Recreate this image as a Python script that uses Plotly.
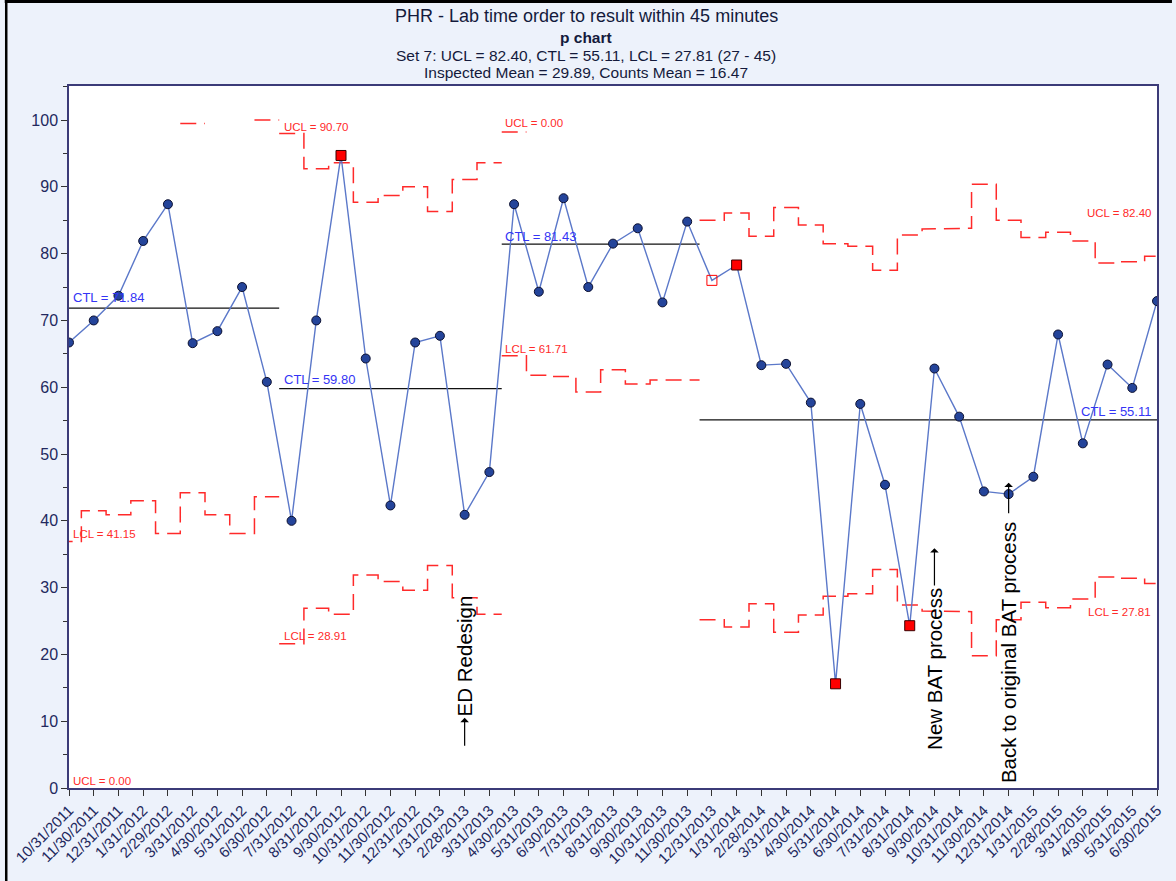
import plotly.graph_objects as go

# ---------------- data ----------------
dates = ["10/31/2011", "11/30/2011", "12/31/2011", "1/31/2012", "2/29/2012", "3/31/2012",
         "4/30/2012", "5/31/2012", "6/30/2012", "7/31/2012", "8/31/2012", "9/30/2012",
         "10/31/2012", "11/30/2012", "12/31/2012", "1/31/2013", "2/28/2013", "3/31/2013",
         "4/30/2013", "5/31/2013", "6/30/2013", "7/31/2013", "8/31/2013", "9/30/2013",
         "10/31/2013", "11/30/2013", "12/31/2013", "1/31/2014", "2/28/2014", "3/31/2014",
         "4/30/2014", "5/31/2014", "6/30/2014", "7/31/2014", "8/31/2014", "9/30/2014",
         "10/31/2014", "11/30/2014", "12/31/2014", "1/31/2015", "2/28/2015", "3/31/2015",
         "4/30/2015", "5/31/2015", "6/30/2015"]

pct = [66.7, 70.0, 73.7, 81.9, 87.4, 66.6, 68.4, 75.0, 60.8,
       40.0, 70.0, 94.7, 64.3, 42.3, 66.7, 67.7, 40.9, 47.3,
       87.4, 74.3, 88.3, 75.0, 81.5, 83.8, 72.7, 84.8,
       76.0, 78.3, 63.3, 63.5, 57.7, 15.6, 57.5, 45.4, 24.3, 62.8,
       55.6, 44.4, 44.0, 46.6, 67.9, 51.6, 63.4, 59.9, 72.9]

# per-point upper / lower control limits (None = above 100 %, not drawn)
ucl = [None, None, None, None, None, 99.5, None, None, 100.0,
       98.0, 92.7, 93.6, 87.7, 88.7, 90.0, 86.3, 91.1, 93.6,
       98.2, None, None, None, None, None, None, None,
       85.0, 86.1, 82.6, 86.9, 84.3, 81.5, 81.1, 77.5, 82.8, 83.7,
       83.8, 90.4, 85.0, 82.4, 83.2, 81.9, 78.6, 78.8, 79.6]
lcl = [36.9, 41.5, 40.9, 43.0, 38.1, 44.2, 40.9, 38.1, 43.6,
       21.6, 26.9, 26.0, 31.9, 30.9, 29.6, 33.3, 28.5, 26.0,
       64.7, 61.8, 61.6, 59.3, 62.6, 60.5, 61.1, 61.1,
       25.2, 24.1, 27.6, 23.3, 25.9, 28.7, 29.1, 32.7, 27.4, 26.5,
       26.4, 19.8, 25.2, 27.8, 27.0, 28.3, 31.6, 31.4, 30.6]

phase_start = [0, 9, 18, 26]
phase_end = [8, 17, 25, 44]
ctl = [71.84, 59.80, 81.43, 55.11]

signal_idx = [11, 27, 31, 34]     # filled red squares
open_idx = [26]                   # hollow red square

# ---------------- styles ----------------
NAVY = "#23295e"
FONT = "Liberation Sans, Arial, sans-serif"
LIMIT_RED = "#ff2a2a"

fig = go.Figure()

# control limit step lines
def step_xy(vals, s, e):
    xs, ys = [], []
    for i in range(s, e + 1):
        v = vals[i]
        if v is None:
            xs.append(None); ys.append(None)
        else:
            xs += [i - 0.5, i + 0.5]
            ys += [v, v]
    return xs, ys

for s, e, c in zip(phase_start, phase_end, ctl):
    for vals in (ucl, lcl):
        xs, ys = step_xy(vals, s, e)
        fig.add_trace(go.Scatter(x=xs, y=ys, mode="lines", connectgaps=False,
                                 line=dict(color=LIMIT_RED, width=1.5, dash="16px,8px"),
                                 hoverinfo="skip", showlegend=False))
    fig.add_trace(go.Scatter(x=[s - 0.5, e + 0.5], y=[c, c], mode="lines",
                             line=dict(color="#111111", width=1.3),
                             hoverinfo="skip", showlegend=False))

# data line + markers
idx = list(range(len(pct)))
colors, symbols, lcolors, sizes = [], [], [], []
for i in idx:
    if i in signal_idx:
        colors.append("#ff0000"); symbols.append("square"); lcolors.append("#3a0000"); sizes.append(10)
    elif i in open_idx:
        colors.append("#ff0000"); symbols.append("square-open"); lcolors.append("#ff0000"); sizes.append(10)
    else:
        colors.append("#24449a"); symbols.append("circle"); lcolors.append("#0c1030"); sizes.append(9)

fig.add_trace(go.Scatter(x=idx, y=pct, mode="lines+markers",
                         line=dict(color="#5b78c9", width=1.4),
                         marker=dict(color=colors, symbol=symbols, size=sizes, opacity=1,
                                     line=dict(color=lcolors, width=1)),
                         showlegend=False))

# ---------------- annotations ----------------
ann = []
def lab(text, x, y, color, size, anchor="left"):
    ann.append(dict(text=text, x=x, y=y, xref="x", yref="y", showarrow=False,
                    xanchor=anchor, yanchor="middle",
                    font=dict(family=FONT, size=size, color=color)))

BLUE = "#3434f5"
lab("CTL = 71.84", 0.08, 73.4, BLUE, 13)
lab("CTL = 59.80", 8.6, 61.1, BLUE, 13)
lab("CTL = 81.43", 17.57, 82.6, BLUE, 13)
lab("CTL = 55.11", 43.82, 56.3, BLUE, 13, "right")
lab("UCL = 90.70", 8.6, 99.0, LIMIT_RED, 11.5)
lab("UCL = 0.00", 17.57, 99.5, LIMIT_RED, 11.5)
lab("UCL = 82.40", 43.82, 86.1, LIMIT_RED, 11.5, "right")
lab("LCL = 41.15", 0.08, 38.1, LIMIT_RED, 11.5)
lab("LCL = 28.91", 8.6, 22.8, LIMIT_RED, 11.5)
lab("LCL = 61.71", 17.57, 65.8, LIMIT_RED, 11.5)
lab("LCL = 27.81", 43.82, 26.4, LIMIT_RED, 11.5, "right")
lab("UCL = 0.00", 0.08, 1.1, LIMIT_RED, 11.5)

# vertical event labels with arrows
events = [("ED Redesign", 16, 19.8, 6.1, 10.5),
          ("New BAT process", 35, 17.9, 30.1, 35.9),
          ("Back to original BAT process", 38, 20.3, 40.9, 45.7)]
for text, xi, yc, y0, y1 in events:
    ann.append(dict(text=text, x=xi, y=yc, xref="x", yref="y", showarrow=False,
                    textangle=-90, xanchor="center", yanchor="middle",
                    font=dict(family=FONT, size=20.5, color="#000000")))
    ann.append(dict(text="", x=xi, y=y1, ax=xi, ay=y0, xref="x", yref="y",
                    axref="x", ayref="y", showarrow=True, arrowhead=1,
                    arrowsize=1.2, arrowwidth=1.2, arrowcolor="#000000"))

# title lines (pixel -> paper coordinates of the plot area)
PL, PR, PT, PB = 69, 1161, 86, 788
def py(p):
    return (PB - p) / (PB - PT)
def px(p):
    return (p - PL) / (PR - PL)

titles = [("PHR - Lab time order to result within 45 minutes", 16, 18),
          ("<b>p chart</b>", 37, 15.5),
          ("Set 7: UCL = 82.40, CTL = 55.11, LCL = 27.81 (27 - 45)", 55, 15.5),
          ("Inspected Mean = 29.89, Counts Mean = 16.47", 73, 15.5)]
for t, yy, sz in titles:
    ann.append(dict(text=t, x=px(588), y=py(yy), xref="paper", yref="paper",
                    showarrow=False, xanchor="center", yanchor="middle",
                    font=dict(family=FONT, size=sz, color="#141a3c")))

shapes = [
    dict(type="line", xref="paper", yref="paper", x0=px(6), x1=px(6),
         y0=py(0), y1=py(881), line=dict(color="#000000", width=2.5)),
    dict(type="line", xref="paper", yref="paper", x0=px(4.5), x1=px(1176),
         y0=py(1.5), y1=py(1.5), line=dict(color="#000000", width=3)),
]

fig.update_layout(
    width=1176, height=881,
    margin=dict(l=PL, r=1176 - PR, t=PT, b=881 - PB, pad=0),
    paper_bgcolor="#edf2fb", plot_bgcolor="#ffffff",
    annotations=ann, shapes=shapes,
    font=dict(family=FONT, color=NAVY),
)
fig.update_xaxes(range=[0, 44], tickmode="array", tickvals=idx, ticktext=dates,
                 tickangle=-45, ticks="outside", ticklen=6, tickcolor="#333333",
                 showline=True, mirror=True, linecolor="#3b3b78", linewidth=1.5,
                 showgrid=False, zeroline=False,
                 tickfont=dict(family=FONT, size=15, color=NAVY))
fig.update_yaxes(range=[0, 105.1], tick0=0, dtick=10, ticks="outside", ticklen=6,
                 tickcolor="#333333",
                 minor=dict(dtick=5, ticks="outside", ticklen=4, tickcolor="#333333", showgrid=False),
                 showline=True, mirror=True, linecolor="#3b3b78", linewidth=1.5,
                 showgrid=False, zeroline=False,
                 tickfont=dict(family=FONT, size=16, color=NAVY))

fig.write_html("out.html", config={"displayModeBar": False},
               post_script="document.body.style.margin='0';")
